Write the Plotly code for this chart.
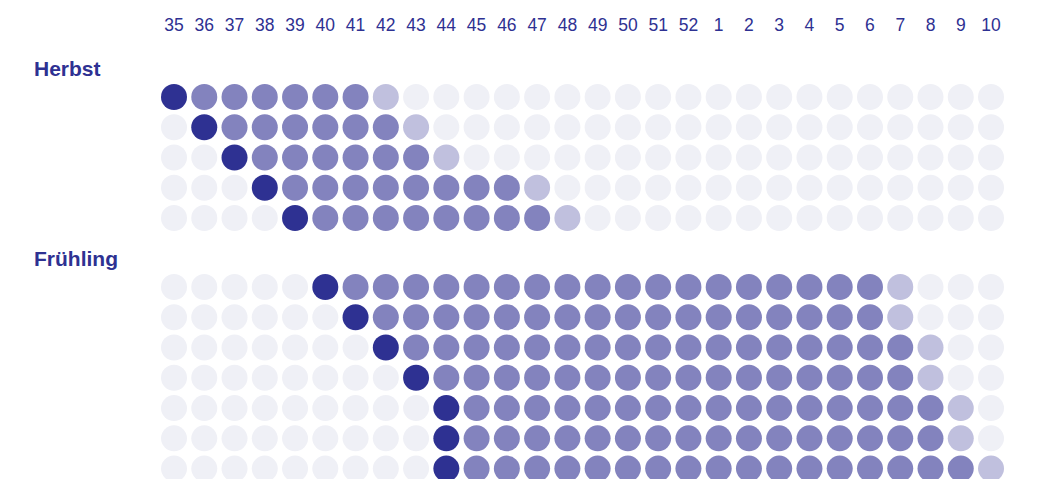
import plotly.graph_objects as go

# ---- data ----
weeks = ["35", "36", "37", "38", "39", "40", "41", "42", "43", "44", "45", "46",
         "47", "48", "49", "50", "51", "52", "1", "2", "3", "4", "5", "6", "7",
         "8", "9", "10"]
groups = ["Herbst", "Frühling"]
# first week (dark dot) and last week (light dot) of each row
herbst_first = ["35", "36", "37", "38", "39"]
herbst_last = ["42", "43", "44", "47", "48"]
fruehling_first = ["40", "41", "42", "43", "44", "44", "44"]
fruehling_last = ["7", "7", "8", "8", "9", "9", "10"]

# ---- style ----
C_DARK = "#2e3192"
C_MED = "#8383be"
C_LIGHT = "#c0c0de"
C_GRAY = "#eff0f6"
FONT = "Liberation Sans, Arial, Helvetica, sans-serif"
GROUP_GAP = 2.28  # vertical gap (in row units) between groups

W, H = 1029, 471          # page body has an 8px margin
px = 30.26                # pixels per column / row
X0, Y0 = 166, 89          # pixel position of first dot (figure coords)
TOP = 27

rows = []  # (y, first_idx, last_idx)
y = 0.0
group_label_y = []
for gi, (firsts, lasts) in enumerate([(herbst_first, herbst_last),
                                      (fruehling_first, fruehling_last)]):
    if gi > 0:
        y += GROUP_GAP
    group_label_y.append(y - 0.95)
    for f, l in zip(firsts, lasts):
        rows.append((y, weeks.index(f), weeks.index(l)))
        y += 1
    y -= 1

buckets = {C_GRAY: ([], []), C_LIGHT: ([], []), C_MED: ([], []), C_DARK: ([], [])}
for ry, fi, li in rows:
    for ci in range(len(weeks)):
        if ci == fi:
            c = C_DARK
        elif fi < ci < li:
            c = C_MED
        elif ci == li:
            c = C_LIGHT
        else:
            c = C_GRAY
        buckets[c][0].append(ci)
        buckets[c][1].append(ry)

fig = go.Figure()
for c, (xs, ys) in buckets.items():
    fig.add_trace(go.Scatter(
        x=xs, y=ys, mode="markers",
        marker=dict(size=26, color=c, line=dict(width=0)),
        hoverinfo="skip", showlegend=False))

for name, gy in zip(groups, group_label_y):
    fig.add_annotation(
        x=23.5 / W, xref="paper", y=gy, yref="y", text="<b>%s</b>" % name,
        showarrow=False, xanchor="left", yanchor="middle",
        font=dict(family=FONT, size=21, color=C_DARK))

fig.update_layout(
    width=W, height=H,
    margin=dict(l=0, r=0, t=TOP, b=0),
    paper_bgcolor="white", plot_bgcolor="white",
    xaxis=dict(
        range=[-X0 / px, (W - X0) / px],
        side="top", tickvals=list(range(len(weeks))), ticktext=weeks,
        tickfont=dict(family=FONT, size=17.5, color=C_DARK),
        showgrid=False, zeroline=False, showline=False, ticks="", ticklen=0,
        fixedrange=True),
    yaxis=dict(
        range=[(H - Y0) / px, (TOP - Y0) / px],
        visible=False, showgrid=False, zeroline=False, fixedrange=True),
)

fig.write_html("out.html")
